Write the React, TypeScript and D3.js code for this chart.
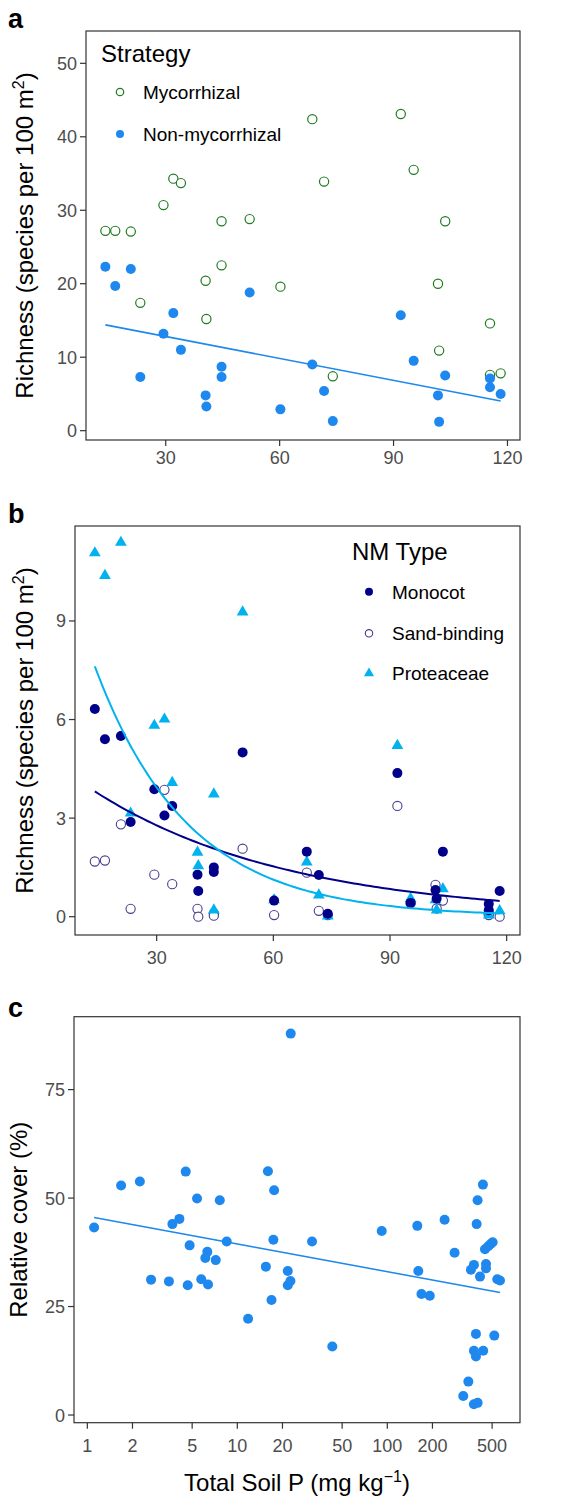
import React from 'react';
import * as d3 from 'd3';

// ---------- data ----------
// site total soil P (mg/kg) for panels a and b
const siteP = [14.1, 16.7, 20.8, 23.3, 29.4, 32.0, 34.0, 40.5, 40.7, 44.7, 44.7, 52.1, 60.2, 68.6, 71.7, 74.0, 91.9, 95.3, 101.7, 102.0, 103.6, 115.4, 115.4, 118.2];
const mycRich = [27.2, 27.2, 27.1, 17.4, 30.7, 34.3, 33.7, 20.4, 15.2, 28.5, 22.5, 28.8, 19.6, 42.4, 33.9, 7.4, 43.1, 35.5, 20.0, 10.9, 28.5, 14.6, 7.6, 7.8];
const nonMycRich = [22.3, 19.7, 22.0, 7.3, 13.2, 16.0, 11.0, 4.8, 3.3, 8.7, 7.3, 18.8, 2.9, 9.0, 5.4, 1.3, 15.7, 9.5, 4.8, 1.2, 7.5, 7.1, 5.9, 5.0];
const monocotRich = [6.32, 5.4, 5.5, 2.88, 3.88, 3.08, 3.37, 1.28, 0.78, 1.5, 1.36, 5.0, 0.49, 1.98, 1.27, 0.09, 4.37, 0.42, 0.81, 0.55, 1.98, 0.39, 0.2, 0.78];
const sandRich = [1.68, 1.71, 2.81, 0.24, 1.28, 3.86, 0.99, 0.24, 0.0, 0.1, 0.03, 2.07, 0.05, 1.34, 0.18, 0.05, 3.37, 0.41, 0.97, 0.25, 0.49, 0.1, 0.05, 0.0];
const proteaRich = [11.07, 10.38, 11.39, 3.15, 5.82, 6.01, 4.08, 1.96, 1.55, 3.73, 0.2, 9.27, 0.51, 1.66, 0.66, 0.02, 5.21, 0.55, 0.51, 0.2, 0.85, 0.18, 0.05, 0.18];

// panel c
const coverP = [1.11, 1.68, 2.24, 2.66, 3.5, 3.69, 4.11, 4.53, 4.67, 4.81, 5.39, 5.75, 6.12, 6.31, 6.38, 7.18, 7.64, 8.5, 11.8, 15.5, 16.0, 16.9, 17.4, 17.6, 21.7, 21.7, 22.6, 22.7, 31.5, 43.0, 91.8, 158.5, 161, 169, 192, 241, 281, 321, 347, 361, 378, 378, 378, 390, 390, 394, 400, 400, 415, 434, 436, 448, 455, 455, 471, 489, 504, 517, 541, 564];
const coverPct = [43.2, 52.9, 53.8, 31.2, 30.8, 44.0, 45.2, 56.1, 29.9, 39.1, 49.9, 31.3, 36.2, 37.6, 30.1, 35.7, 49.5, 40.0, 22.2, 34.2, 56.2, 26.5, 40.4, 51.8, 33.2, 29.9, 30.9, 87.9, 40.0, 15.8, 42.4, 43.6, 33.2, 27.9, 27.5, 45.0, 37.4, 4.4, 7.7, 33.5, 34.6, 14.8, 2.5, 18.7, 13.5, 44.0, 49.5, 2.8, 31.9, 53.1, 14.8, 38.2, 34.8, 33.8, 38.9, 39.4, 39.8, 18.3, 31.3, 31.0];

// fitted models
const fitA = { intercept: 15.8, slope: -0.0996 };
const fitMonocot = { a: 1.619, b: -0.0199 };
const fitProtea = { a: 2.617, b: -0.0416 };
const fitC = { intercept: 45.8, slope: -6.39 };

const ticksAX = [30, 60, 90, 120];
const ticksAY = [0, 10, 20, 30, 40, 50];
const ticksBY = [0, 3, 6, 9];
const ticksCY = [0, 25, 50, 75];
const ticksCX = [1, 2, 5, 10, 20, 50, 100, 200, 500];

const legendA = ['Mycorrhizal', 'Non-mycorrhizal'];
const legendB = ['Monocot', 'Sand-binding', 'Proteaceae'];

const COL_BLUE = '#1E88EE';
const COL_GREEN = '#1E7B1E';
const COL_NAVY = '#00008B';
const COL_SAND = '#483D8B';
const COL_PROT = '#00B2EE';
const FONT = '"Liberation Sans", Arial, Helvetica, sans-serif';
const TICKCOL = '#4D4D4D';
const AXCOL = '#333333';

const tri = d3.symbol().type(d3.symbolTriangle).size(60)();
const triLeg = d3.symbol().type(d3.symbolTriangle).size(44)();

function Frame({ x0, x1, y0, y1 }: any) {
  return <rect x={x0} y={y0} width={x1 - x0} height={y1 - y0} fill="none" stroke={AXCOL} strokeWidth={1.2} />;
}

function YAxis({ scale, ticks, x0, fmt }: any) {
  return (
    <g>
      {ticks.map((t: number) => (
        <g key={t}>
          <line x1={x0 - 6} x2={x0} y1={scale(t)} y2={scale(t)} stroke={AXCOL} strokeWidth={1.2} />
          <text x={x0 - 9} y={scale(t) + 6.5} textAnchor="end" fontSize={18} fill={TICKCOL} fontFamily={FONT}>{fmt ? fmt(t) : t}</text>
        </g>
      ))}
    </g>
  );
}

function XAxis({ scale, ticks, y1, off }: any) {
  return (
    <g>
      {ticks.map((t: number) => (
        <g key={t}>
          <line x1={scale(t)} x2={scale(t)} y1={y1} y2={y1 + 6} stroke={AXCOL} strokeWidth={1.2} />
          <text x={scale(t)} y={y1 + off} textAnchor="middle" fontSize={18} fill={TICKCOL} fontFamily={FONT}>{t}</text>
        </g>
      ))}
    </g>
  );
}

function RichTitle({ cy }: any) {
  return (
    <text transform={`translate(33,${cy}) rotate(-90)`} textAnchor="middle" fontSize={24} fontFamily={FONT} fill="#000">
      Richness (species per 100 m<tspan fontSize={16} dy={-9}>2</tspan><tspan dy={9}>)</tspan>
    </text>
  );
}

export default function App() {
  // ---------- panel a ----------
  const A = { x0: 86, x1: 520, y0: 31, y1: 440 };
  const xA = d3.scaleLinear().domain([9.0, 123.3]).range([A.x0, A.x1]);
  const yA = d3.scaleLinear().domain([-1.27, 54.4]).range([A.y1, A.y0]);
  const pMin = d3.min(siteP) as number;
  const pMax = d3.max(siteP) as number;
  const lineA = d3.line<number>().x((p) => xA(p)).y((p) => yA(fitA.intercept + fitA.slope * p));

  // ---------- panel b ----------
  const B = { x0: 75, x1: 520, y0: 526, y1: 935 };
  const xB = d3.scaleLinear().domain([9.0, 123.43]).range([B.x0, B.x1]);
  const yB = d3.scaleLinear().domain([-0.557, 11.89]).range([B.y1, B.y0]);
  const grid = d3.range(0, 101).map((i) => pMin + ((pMax - pMin) * i) / 100);
  const curve = (f: any) => d3.line<number>().x((p) => xB(p)).y((p) => yB(Math.exp(f.a + f.b * p)))(grid);

  // ---------- panel c ----------
  const C = { x0: 74, x1: 520, y0: 1016.7, y1: 1422.7 };
  const xC = d3.scaleLog().domain([0.815, 767]).range([C.x0, C.x1]);
  const yC = d3.scaleLinear().domain([-1.77, 91.8]).range([C.y1, C.y0]);
  const cMin = d3.min(coverP) as number;
  const cMax = d3.max(coverP) as number;
  const lineC = d3.line<number>().x((p) => xC(p)).y((p) => yC(fitC.intercept + fitC.slope * Math.log10(p)));

  return (
    <svg width={580} height={1497} style={{ position: 'absolute', left: 0, top: 0, background: '#fff' }} fontFamily={FONT}>
      <rect x={0} y={0} width={580} height={1497} fill="#fff" />
      {/* ===== panel a ===== */}
      <text x={8} y={28} fontSize={27} fontWeight="bold">a</text>
      {siteP.map((p, i) => (
        <circle key={'m' + i} cx={xA(p)} cy={yA(mycRich[i])} r={4.6} fill="#fff" stroke={COL_GREEN} strokeWidth={1.2} />
      ))}
      {siteP.map((p, i) => (
        <circle key={'n' + i} cx={xA(p)} cy={yA(nonMycRich[i])} r={5} fill={COL_BLUE} />
      ))}
      <path d={lineA([pMin, pMax]) as string} fill="none" stroke={COL_BLUE} strokeWidth={1.6} />
      <Frame {...A} />
      <YAxis scale={yA} ticks={ticksAY} x0={A.x0} />
      <XAxis scale={xA} ticks={ticksAX} y1={A.y1} off={24} />
      <RichTitle cy={(A.y0 + A.y1) / 2} />
      <text x={101} y={62} fontSize={24}>Strategy</text>
      <circle cx={120} cy={92} r={3.7} fill="#fff" stroke={COL_GREEN} strokeWidth={1.2} />
      <text x={143} y={99} fontSize={19}>{legendA[0]}</text>
      <circle cx={120} cy={134} r={4} fill={COL_BLUE} />
      <text x={143} y={141} fontSize={19}>{legendA[1]}</text>

      {/* ===== panel b ===== */}
      <text x={8} y={523} fontSize={27} fontWeight="bold">b</text>
      {siteP.map((p, i) => (
        <circle key={'s' + i} cx={xB(p)} cy={yB(sandRich[i])} r={4.6} fill="#fff" stroke={COL_SAND} strokeWidth={1.1} />
      ))}
      {siteP.map((p, i) => (
        <path key={'p' + i} d={tri} transform={`translate(${xB(p)},${yB(proteaRich[i])})`} fill={COL_PROT} />
      ))}
      {siteP.map((p, i) => (
        <circle key={'c' + i} cx={xB(p)} cy={yB(monocotRich[i])} r={5} fill={COL_NAVY} />
      ))}
      <path d={curve(fitMonocot) as string} fill="none" stroke={COL_NAVY} strokeWidth={2} />
      <path d={curve(fitProtea) as string} fill="none" stroke={COL_PROT} strokeWidth={2} />
      <Frame {...B} />
      <YAxis scale={yB} ticks={ticksBY} x0={B.x0} />
      <XAxis scale={xB} ticks={ticksAX} y1={B.y1} off={29} />
      <RichTitle cy={(B.y0 + B.y1) / 2} />
      <text x={352} y={560} fontSize={24}>NM Type</text>
      <circle cx={369} cy={591.7} r={4} fill={COL_NAVY} />
      <text x={392} y={598.7} fontSize={19}>{legendB[0]}</text>
      <circle cx={369} cy={633.3} r={3.7} fill="#fff" stroke={COL_SAND} strokeWidth={1.1} />
      <text x={392} y={640.3} fontSize={19}>{legendB[1]}</text>
      <path d={triLeg} transform="translate(369,673.3)" fill={COL_PROT} />
      <text x={392} y={680.3} fontSize={19}>{legendB[2]}</text>

      {/* ===== panel c ===== */}
      <text x={8} y={1017} fontSize={27} fontWeight="bold">c</text>
      {coverP.map((p, i) => (
        <circle key={'v' + i} cx={xC(p)} cy={yC(coverPct[i])} r={5} fill={COL_BLUE} />
      ))}
      <path d={lineC(d3.range(0, 101).map((i) => cMin * Math.pow(cMax / cMin, i / 100))) as string} fill="none" stroke={COL_BLUE} strokeWidth={1.6} />
      <Frame {...C} />
      <YAxis scale={yC} ticks={ticksCY} x0={C.x0} />
      <XAxis scale={xC} ticks={ticksCX} y1={C.y1} off={29} />
      <text transform={`translate(27,${(C.y0 + C.y1) / 2}) rotate(-90)`} textAnchor="middle" fontSize={24}>Relative cover (%)</text>
      <text x={(C.x0 + C.x1) / 2} y={1491} textAnchor="middle" fontSize={24}>
        Total Soil P (mg kg<tspan fontSize={16} dy={-9}>−1</tspan><tspan dy={9}>)</tspan>
      </text>
    </svg>
  );
}
